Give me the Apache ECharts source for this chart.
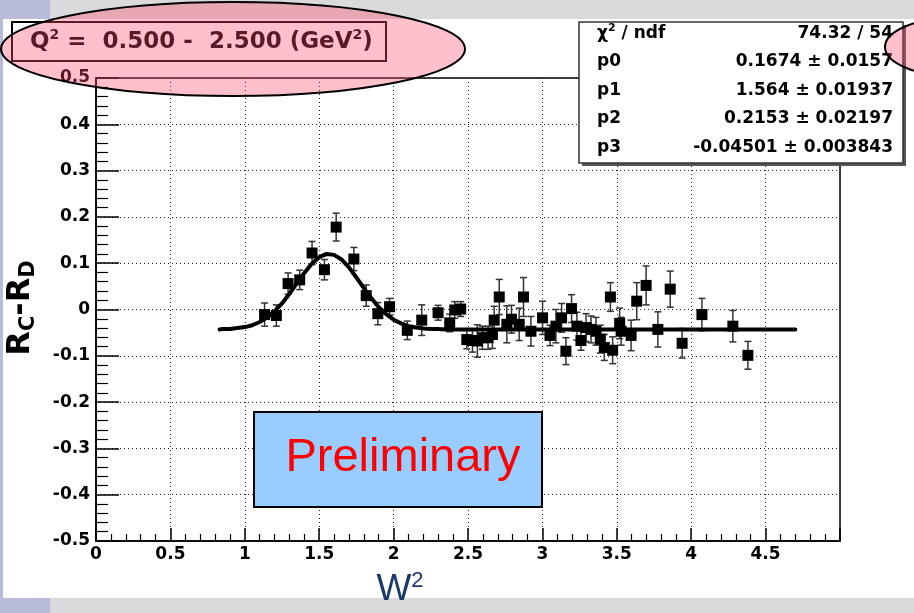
<!DOCTYPE html>
<html>
<head>
<meta charset="utf-8">
<script src="https://cdn.jsdelivr.net/npm/echarts@6/dist/echarts.min.js"></script>
<style>
  html, body { margin: 0; padding: 0; background: #fff; }
  #chart { width: 914px; height: 613px; }
</style>
</head>
<body>
<div id="chart"></div>
<script>
// data points: W^2, Rc-Rd, error
const w2 = [1.133, 1.212, 1.291, 1.369, 1.452, 1.535, 1.614, 1.733, 1.816, 1.894, 1.973,
  2.092, 2.189, 2.299, 2.377, 2.411, 2.451, 2.492, 2.530, 2.563, 2.597, 2.635, 2.664, 2.676,
  2.710, 2.761, 2.792, 2.844, 2.873, 2.923, 3.001, 3.051, 3.091, 3.129, 3.158, 3.196, 3.232,
  3.259, 3.293, 3.327, 3.360, 3.389, 3.416, 3.457, 3.472, 3.519, 3.529, 3.596, 3.634, 3.697,
  3.776, 3.859, 3.939, 4.072, 4.280, 4.381]
const diff = [-0.011, -0.013, 0.056, 0.064, 0.122, 0.086, 0.178, 0.109, 0.030, -0.009, 0.006,
  -0.045, -0.023, -0.007, -0.029, -0.001, 0.001, -0.065, -0.067, -0.068, -0.061, -0.061, -0.054, -0.023,
  0.027, -0.032, -0.021, -0.032, 0.027, -0.047, -0.018, -0.056, -0.036, -0.018, -0.090, 0.002, -0.036,
  -0.067, -0.039, -0.043, -0.047, -0.064, -0.082, 0.027, -0.088, -0.030, -0.047, -0.056, 0.018, 0.052,
  -0.043, 0.044, -0.073, -0.011, -0.036, -0.099]
const err = [0.025, 0.023, 0.023, 0.021, 0.025, 0.022, 0.030, 0.025, 0.023, 0.024, 0.018,
  0.020, 0.033, 0.016, 0.019, 0.018, 0.016, 0.020, 0.025, 0.035, 0.025, 0.025, 0.030, 0.030,
  0.038, 0.040, 0.030, 0.035, 0.042, 0.032, 0.036, 0.022, 0.036, 0.031, 0.029, 0.030, 0.030,
  0.021, 0.030, 0.029, 0.030, 0.030, 0.028, 0.031, 0.029, 0.033, 0.030, 0.033, 0.040, 0.042,
  0.038, 0.039, 0.032, 0.035, 0.034, 0.030]

// fit curve
const fitX = [0.83, 0.85, 0.9, 0.95, 1.0, 1.05, 1.1, 1.15, 1.2, 1.25, 1.3, 1.35, 1.4, 1.45, 1.5, 1.55,
  1.6, 1.65, 1.7, 1.75, 1.8, 1.85, 1.9, 1.95, 2.0, 2.05, 2.1, 2.15, 2.2, 2.25, 2.3, 2.35, 2.4,
  2.5, 3.0, 3.5, 4.0, 4.5, 4.7]
const fitY = [-0.043, -0.042, -0.042, -0.040, -0.038, -0.034, -0.027, -0.017, -0.004, 0.013, 0.034, 0.057, 0.079, 0.099, 0.113, 0.120,
  0.118, 0.108, 0.091, 0.069, 0.046, 0.025, 0.005, -0.010, -0.022, -0.030, -0.036, -0.039, -0.041, -0.042, -0.042, -0.043, -0.043,
  -0.043, -0.043, -0.043, -0.043, -0.043, -0.043]

const statNames = ['p0', 'p1', 'p2', 'p3']
const statValues = ['0.1674 \u00b1 0.0157', '1.564 \u00b1 0.01937', '0.2153 \u00b1 0.02197', '-0.04501 \u00b1 0.003843']

const chart = echarts.init(document.getElementById('chart'))

const lav = '#b8bbd9'
const band = '#dadada'
const bold17 = 'bold 17px "DejaVu Sans"'

const statRows = []
statNames.forEach((n, i) => {
  const y = 62 + i * 28.5
  statRows.push({ type: 'text', z: 60, style: { text: n, x: 597, y: y, font: bold17, fill: '#000', textVerticalAlign: 'middle' } })
  statRows.push({ type: 'text', z: 60, style: { text: statValues[i], x: 893, y: y, font: bold17, fill: '#000', textAlign: 'right', textVerticalAlign: 'middle' } })
})

chart.setOption({
  animation: false,
  backgroundColor: '#fff',
  grid: { left: 96, top: 78, right: 74, bottom: 72, show: true, borderColor: '#000', borderWidth: 1.5 },
  xAxis: {
    type: 'value', min: 0, max: 5, interval: 0.5,
    axisLine: { onZero: false, lineStyle: { color: '#000', width: 1.5 } },
    axisTick: { inside: true, length: 13, lineStyle: { color: '#000', width: 1.5 } },
    minorTick: { show: true, splitNumber: 5, length: 7, lineStyle: { color: '#000', width: 1.2 } },
    splitLine: { show: true, lineStyle: { color: '#222', type: [1, 3], width: 1 } },
    axisLabel: { showMaxLabel: false, color: '#000', fontSize: 17, fontWeight: 'bold', fontFamily: 'DejaVu Sans', margin: 5,
      formatter: v => String(Math.round(v * 10) / 10) }
  },
  yAxis: {
    type: 'value', min: -0.5, max: 0.5, interval: 0.1,
    axisLine: { onZero: false, lineStyle: { color: '#000', width: 1.5 } },
    axisTick: { inside: true, length: 23, lineStyle: { color: '#000', width: 1.5 } },
    minorTick: { show: true, splitNumber: 5, length: 12, lineStyle: { color: '#000', width: 1.2 } },
    splitLine: { show: true, lineStyle: { color: '#222', type: [1, 3], width: 1 } },
    axisLabel: { color: '#000', fontSize: 17, fontWeight: 'bold', fontFamily: 'DejaVu Sans', margin: 6,
      formatter: v => String(Math.round(v * 10) / 10) }
  },
  series: [
    {
      type: 'custom',
      z: 3,
      data: w2.map((x, i) => [x, diff[i], err[i]]),
      renderItem: (params, api) => {
        const x = api.value(0), y = api.value(1), e = api.value(2)
        const top = api.coord([x, y + e])
        const bot = api.coord([x, y - e])
        const st = { stroke: '#333', lineWidth: 1.5 }
        return {
          type: 'group',
          children: [
            { type: 'line', shape: { x1: top[0], y1: top[1], x2: bot[0], y2: bot[1] }, style: st },
            { type: 'line', shape: { x1: top[0] - 3.5, y1: top[1], x2: top[0] + 3.5, y2: top[1] }, style: st },
            { type: 'line', shape: { x1: bot[0] - 3.5, y1: bot[1], x2: bot[0] + 3.5, y2: bot[1] }, style: st }
          ]
        }
      }
    },
    {
      type: 'scatter',
      z: 4,
      symbol: 'rect',
      symbolSize: 11,
      itemStyle: { color: '#000', opacity: 1 },
      data: w2.map((x, i) => [x, diff[i]])
    },
    {
      type: 'line',
      z: 5,
      showSymbol: false,
      smooth: false,
      lineStyle: { color: '#000', width: 4, join: 'round', cap: 'round' },
      data: fitX.map((x, i) => [x, fitY[i]])
    }
  ],
  graphic: [
    // slide backdrop
    { type: 'rect', z: 0, shape: { x: 0, y: 0, width: 914, height: 19 }, style: { fill: band } },
    { type: 'rect', z: 0, shape: { x: 0, y: 598, width: 914, height: 15 }, style: { fill: band } },
    { type: 'rect', z: 0, shape: { x: 0, y: 0, width: 50, height: 19 }, style: { fill: lav } },
    { type: 'rect', z: 0, shape: { x: 0, y: 598, width: 50, height: 15 }, style: { fill: lav } },
    { type: 'rect', z: 0, shape: { x: 0, y: 0, width: 3, height: 613 }, style: { fill: lav } },
    // title box
    { type: 'rect', z: 50, shape: { x: 12, y: 22, width: 374, height: 39 }, style: { fill: '#fff', stroke: '#000', lineWidth: 2 } },
    {
      type: 'text', z: 51,
      style: {
        text: '{m|Q}{s|2}{m| =  0.500 -  2.500 (GeV}{s|2}{m|)}',
        x: 30, y: 42, textVerticalAlign: 'middle', fill: '#000',
        rich: {
          m: { font: 'bold 23px "DejaVu Sans"', lineHeight: 28, fill: '#000' },
          s: { font: 'bold 14px "DejaVu Sans"', verticalAlign: 'top', lineHeight: 20, fill: '#000' }
        }
      }
    },
    // pink highlight ellipses
    { type: 'ellipse', z: 70, shape: { cx: 233, cy: 49, rx: 232, ry: 47 }, style: { fill: 'rgba(255,71,106,0.35)', stroke: '#000', lineWidth: 2 } },
    // stats box
    { type: 'rect', z: 58, shape: { x: 582, y: 25, width: 324, height: 141 }, style: { fill: '#555' } },
    { type: 'rect', z: 59, shape: { x: 579, y: 22, width: 324, height: 141 }, style: { fill: '#fff', stroke: '#333', lineWidth: 1.5 } },
    {
      type: 'text', z: 60,
      style: {
        text: '{m|\u03c7}{s|2}{m| / ndf}', x: 597, y: 34, textVerticalAlign: 'middle',
        rich: {
          m: { font: bold17, lineHeight: 22, fill: '#000' },
          s: { font: 'bold 11px "DejaVu Sans"', verticalAlign: 'top', lineHeight: 16, fill: '#000' }
        }
      }
    },
    { type: 'text', z: 60, style: { text: '74.32 / 54', x: 893, y: 34, font: bold17, fill: '#000', textAlign: 'right', textVerticalAlign: 'middle' } },
    ...statRows,
    { type: 'ellipse', z: 70, shape: { cx: 960, cy: 47, rx: 75, ry: 30 }, style: { fill: 'rgba(255,71,106,0.35)', stroke: '#000', lineWidth: 2 } },
    // preliminary stamp
    { type: 'rect', z: 50, shape: { x: 254, y: 412, width: 288, height: 95 }, style: { fill: '#99ccff', stroke: '#000', lineWidth: 2 } },
    { type: 'text', z: 51, style: { text: 'Preliminary', x: 403, y: 458, font: '47px "Liberation Sans"', fill: '#ff0000', textAlign: 'center', textVerticalAlign: 'middle' } },
    // axis titles
    {
      type: 'text', z: 20, x: 22, y: 308, rotation: Math.PI / 2,
      style: {
        text: '{m|R}{s|C}{m|-R}{s|D}', x: 0, y: 0, textAlign: 'center', textVerticalAlign: 'middle',
        rich: {
          m: { font: 'bold 32px "DejaVu Sans"', lineHeight: 34, verticalAlign: 'top', fill: '#000' },
          s: { font: 'bold 21px "DejaVu Sans"', lineHeight: 24, verticalAlign: 'bottom', fill: '#000' }
        }
      }
    },
    {
      type: 'text', z: 20,
      style: {
        text: '{m|W}{s|2}', x: 400, y: 590, textAlign: 'center', textVerticalAlign: 'middle',
        rich: {
          m: { font: '37px "Liberation Sans"', lineHeight: 40, fill: '#1c3a6b' },
          s: { font: '22px "Liberation Sans"', verticalAlign: 'top', lineHeight: 28, fill: '#1c3a6b' }
        }
      }
    }
  ]
})
</script>
</body>
</html>
